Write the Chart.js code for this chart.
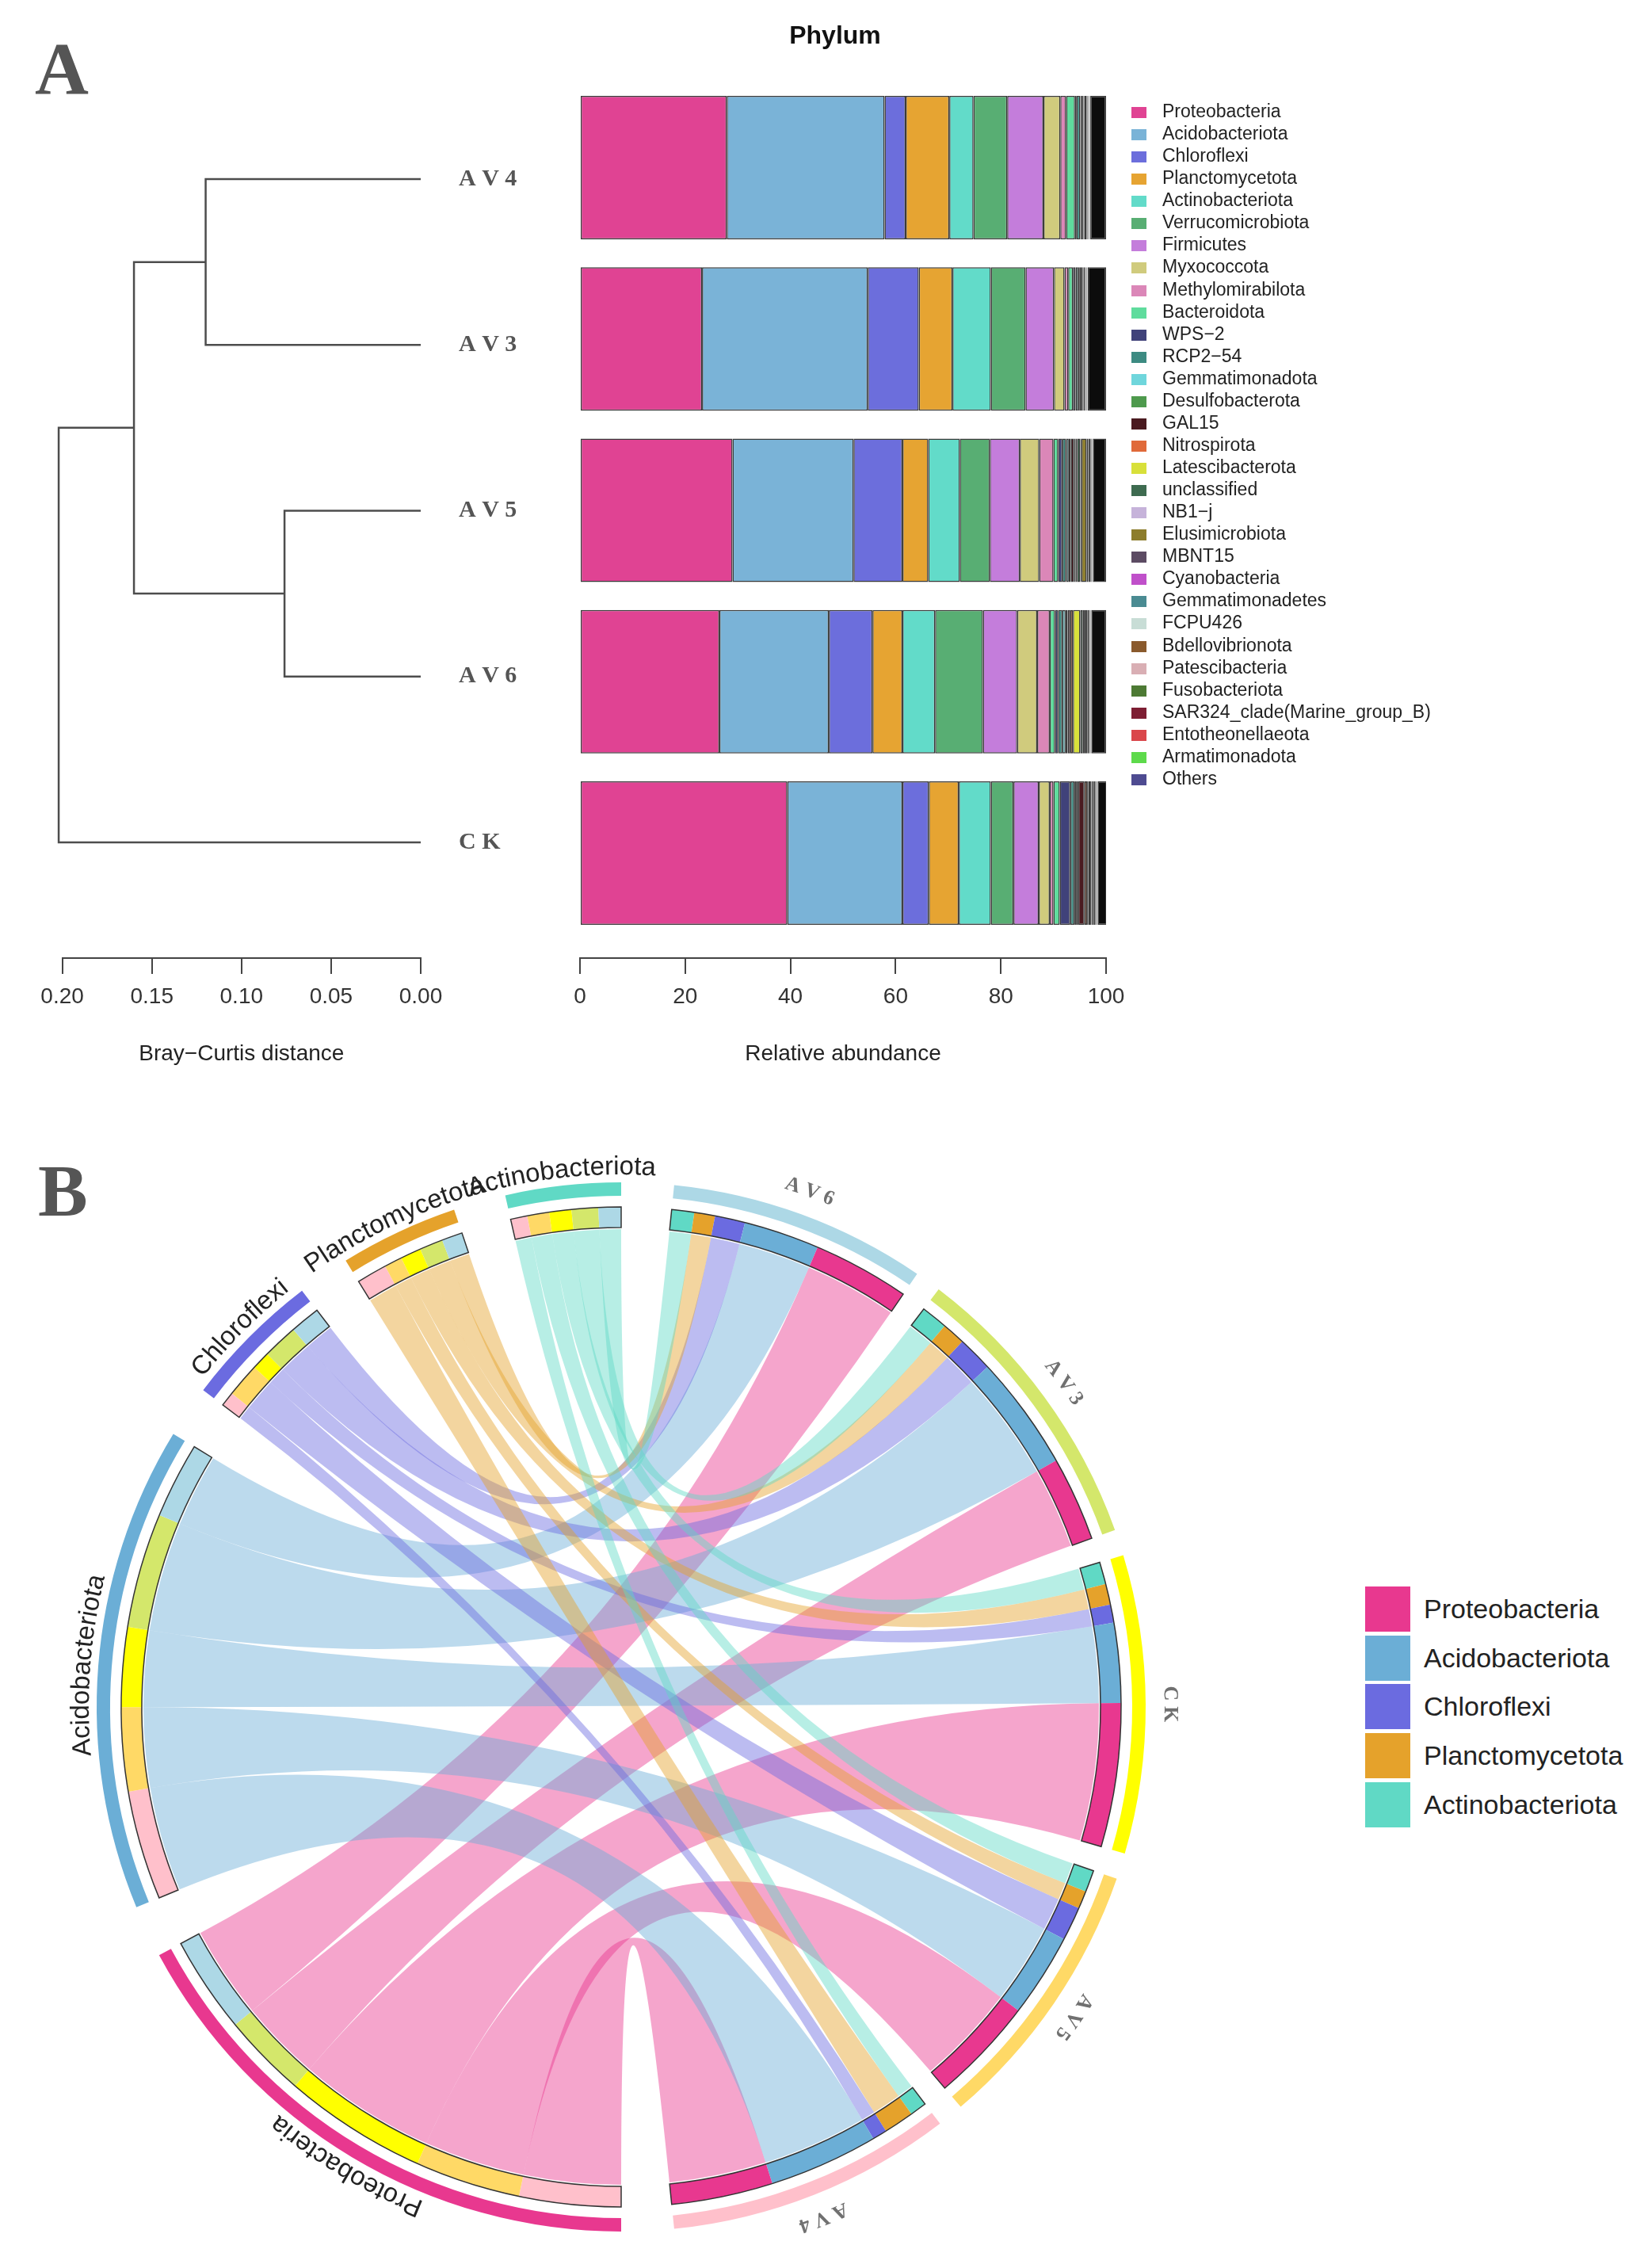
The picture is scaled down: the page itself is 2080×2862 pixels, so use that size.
<!DOCTYPE html>
<html>
<head>
<meta charset="utf-8">
<title>Phylum</title>
<script src="https://cdn.jsdelivr.net/npm/chart.js@4.4.1/dist/chart.umd.min.js"></script>
<style>
    body { margin: 0; width: 2080px; height: 2862px; position: relative; overflow: hidden; background: #fff;
           font-family: "Liberation Sans", Arial, sans-serif; }
    canvas { position: absolute; }
    .panel { position: absolute; z-index: 2; font-family: "Liberation Serif", "Times New Roman", serif;
             font-weight: bold; font-size: 94px; line-height: 1; color: #555; }
    .title { position: absolute; z-index: 2; left: 854px; top: 28px; width: 400px; text-align: center;
             font-weight: bold; font-size: 32px; line-height: 32px; color: #111; }
    .legend-a { position: absolute; left: 1428px; top: 126px; }
    .legend-a .row { height: 28.07px; line-height: 28.07px; font-size: 23px; color: #222; white-space: nowrap; }
    .legend-a .box { display: inline-block; width: 19px; height: 14px; margin-right: 20px; vertical-align: -1px; }
    .legend-b { position: absolute; left: 1723px; top: 2002px; }
    .legend-b .row { height: 61.7px; line-height: 57px; font-size: 34px; color: #222; white-space: nowrap; }
    .legend-b .box { display: inline-block; width: 57px; height: 57px; margin-right: 17px; vertical-align: top; }
</style>
</head>
<body>
<div class="panel" style="left:44px; top:39px;">A</div>
<div class="panel" style="left:48px; top:1455px;">B</div>
<div class="title">Phylum</div>

<canvas id="dendroChart" width="700" height="1420" style="left:0; top:0;"></canvas>
<canvas id="barChart" width="740" height="1420" style="left:700px; top:0;"></canvas>
<canvas id="chordChart" width="1568" height="1482" style="left:0; top:1380px;"></canvas>
<div class="legend-a" id="legendA"></div>
<div class="legend-b" id="legendB"></div>

<script>
// ---- data -------------------------------------------------------------

const samples = ['AV4', 'AV3', 'AV5', 'AV6', 'CK'];
const sampleLabels = ['A V 4', 'A V 3', 'A V 5', 'A V 6', 'C K'];

const phyla = [
    'Proteobacteria', 'Acidobacteriota', 'Chloroflexi', 'Planctomycetota', 'Actinobacteriota',
    'Verrucomicrobiota', 'Firmicutes', 'Myxococcota', 'Methylomirabilota', 'Bacteroidota',
    'WPS\u22122', 'RCP2\u221254', 'Gemmatimonadota', 'Desulfobacterota', 'GAL15',
    'Nitrospirota', 'Latescibacterota', 'unclassified', 'NB1\u2212j', 'Elusimicrobiota',
    'MBNT15', 'Cyanobacteria', 'Gemmatimonadetes', 'FCPU426', 'Bdellovibrionota',
    'Patescibacteria', 'Fusobacteriota', 'SAR324_clade(Marine_group_B)', 'Entotheonellaeota', 'Armatimonadota',
    'Others'
];

const phylumColors = [
    '#E04393', '#7AB3D7', '#6C6EDC', '#E6A432', '#62DBC9',
    '#58AE73', '#C47DDB', '#D0CB7D', '#DB87B8', '#5FDC9D',
    '#40427A', '#3D8B82', '#6FD6DC', '#4E9A4D', '#4A1A20',
    '#E06A3A', '#D8E03A', '#3E6B50', '#C6B3DA', '#8D7D2C',
    '#5C4B63', '#C050CA', '#4A8B92', '#C8DDD6', '#8A5A2D',
    '#D9AFB4', '#4D7A34', '#7D1E33', '#DA474B', '#5DDA4B',
    '#4E4B91'
];

// relative abundance (%) per sample, same order as phyla
const av4 = [27.9, 30.0, 4.0, 8.3, 4.6, 6.4, 6.9, 3.2, 1.1, 1.7, 0.3, 0.7, 0.2, 0.2, 0.2, 0.1, 0.1, 0.4, 0.1, 0.1, 0.1, 0.05, 0.1, 0.05, 0.05, 0.05, 0.02, 0.02, 0.03, 0.03, 3.0];
const av3 = [23.2, 31.5, 9.7, 6.4, 7.3, 6.6, 5.4, 2.0, 0.7, 0.9, 0.5, 0.5, 0.3, 0.2, 0.3, 0.1, 0.1, 0.3, 0.05, 0.05, 0.1, 0.02, 0.1, 0.02, 0.03, 0.03, 0.02, 0.03, 0.03, 0.02, 3.5];
const av5 = [29.0, 23.0, 9.3, 4.9, 6.0, 5.7, 5.7, 3.7, 2.7, 0.9, 0.8, 0.7, 0.5, 0.4, 0.6, 0.3, 0.3, 0.6, 0.2, 1.0, 0.3, 0.1, 0.3, 0.1, 0.1, 0.1, 0.05, 0.05, 0.05, 0.05, 2.5];
const av6 = [26.5, 20.8, 8.3, 5.7, 6.2, 9.1, 6.5, 3.8, 2.4, 1.0, 0.6, 0.8, 0.6, 0.4, 0.5, 0.5, 1.4, 0.5, 0.2, 0.3, 0.3, 0.1, 0.2, 0.1, 0.1, 0.1, 0.05, 0.05, 0.05, 0.05, 2.8];
const ck  = [39.4, 21.9, 5.0, 5.7, 6.1, 4.3, 4.8, 2.1, 0.7, 1.2, 2.0, 0.8, 0.3, 0.4, 1.2, 0.5, 0.2, 0.4, 0.2, 0.2, 0.2, 0.1, 0.2, 0.1, 0.1, 0.1, 0.05, 0.05, 0.05, 0.05, 1.8];

const abundanceTicks = [0, 20, 40, 60, 80, 100];
const distanceTicks = [0.20, 0.15, 0.10, 0.05, 0.00];

// Bray-Curtis clustering, hclust style (negative = leaf in samples order, positive = earlier merge)
const mergePairs = [[-1, -2], [-3, -4], [1, 2], [3, -5]];
const mergeHeights = [0.120, 0.076, 0.160, 0.202];

// chord diagram (top five phyla)
const chordSamples = ['AV6', 'AV3', 'CK', 'AV5', 'AV4'];
const chordSampleLabels = ['A V 6', 'A V 3', 'C K', 'A V 5', 'A V 4'];
const chordSampleColors = ['#ADD8E6', '#D4E76B', '#FFFF00', '#FFD966', '#FFC0CB'];
const chordPhyla = ['Proteobacteria', 'Acidobacteriota', 'Chloroflexi', 'Planctomycetota', 'Actinobacteriota'];
const chordPhylumColors = ['#E8388F', '#6BAED6', '#6B6BE0', '#E5A22B', '#60D9C5'];

// ---- helpers ----------------------------------------------------------

const SANS = '"Liberation Sans", Arial, sans-serif';
const SERIF = '"Liberation Serif", "Times New Roman", serif';
Chart.defaults.font.family = SANS;

const table = { AV4: av4, AV3: av3, AV5: av5, AV6: av6, CK: ck };

function rgba(hex, a) {
    const n = parseInt(hex.slice(1), 16);
    return `rgba(${n >> 16}, ${(n >> 8) & 255}, ${n & 255}, ${a})`;
}

function sum(arr) {
    return arr.reduce((a, b) => a + b, 0);
}

// ---- A: dendrogram ----------------------------------------------------

function dendrogramSegments() {
    const nodes = [];
    const pos = id => id < 0 ? { x: 0, y: -id } : nodes[id - 1];
    return mergePairs.map((pair, k) => {
        const a = pos(pair[0]);
        const b = pos(pair[1]);
        const h = mergeHeights[k];
        nodes.push({ x: h, y: (a.y + b.y) / 2 });
        return [{ x: a.x, y: a.y }, { x: h, y: a.y }, { x: h, y: b.y }, { x: b.x, y: b.y }];
    });
}

new Chart(document.getElementById('dendroChart'), {
    type: 'scatter',
    data: {
        datasets: dendrogramSegments().map(seg => ({
            data: seg,
            showLine: true,
            borderColor: '#4d4d4d',
            borderWidth: 2.5,
            pointRadius: 0,
            tension: 0,
            clip: false
        }))
    },
    options: {
        responsive: false,
        animation: false,
        devicePixelRatio: 1,
        events: [],
        layout: { padding: { left: 78.6, top: 121.4, right: 0, bottom: 0 } },
        plugins: { legend: { display: false }, tooltip: { enabled: false } },
        scales: {
            x: {
                type: 'linear',
                min: 0,
                max: 0.2,
                reverse: true,
                afterBuildTicks: s => { s.ticks = distanceTicks.map(v => ({ value: v })); },
                afterFit: s => { s.height = 211; },
                ticks: { callback: v => v.toFixed(2), font: { size: 28 }, color: '#333', padding: 12 },
                grid: { drawOnChartArea: false, drawTicks: true, tickLength: 20, color: '#444', lineWidth: 2 },
                border: { display: true, color: '#444', width: 2 },
                title: { display: true, text: 'Bray\u2212Curtis distance', font: { size: 28 }, color: '#222',
                         padding: { top: 0, bottom: 73 } }
            },
            y: {
                type: 'linear',
                position: 'right',
                min: 0.5,
                max: 5.698,
                reverse: true,
                afterBuildTicks: s => { s.ticks = samples.map((_, i) => ({ value: i + 1 })); },
                afterFit: s => { s.width = 169; },
                ticks: {
                    callback: v => sampleLabels[v - 1],
                    font: { family: SERIF, size: 30, weight: 'bold' },
                    color: '#555',
                    padding: 40,
                    autoSkip: false
                },
                grid: { display: false },
                border: { display: false }
            }
        }
    }
});

// ---- A: stacked abundance bars ---------------------------------------

new Chart(document.getElementById('barChart'), {
    type: 'bar',
    data: {
        datasets: phyla.map((name, k) => ({
            label: name,
            data: samples.map((s, i) => ({ x: table[s][k], y: i })),
            // the "Others" block reads as black in the bars
            backgroundColor: name === 'Others' ? '#0c0c0c' : phylumColors[k],
            borderColor: '#3a3a3a',
            borderWidth: 1.5,
            borderSkipped: false,
            barPercentage: 0.837,
            categoryPercentage: 1
        }))
    },
    options: {
        indexAxis: 'y',
        responsive: false,
        animation: false,
        devicePixelRatio: 1,
        events: [],
        layout: { padding: { left: 32, top: 103.4, right: 44, bottom: 0 } },
        plugins: { legend: { display: false }, tooltip: { enabled: false } },
        scales: {
            x: {
                type: 'linear',
                stacked: true,
                min: 0,
                max: 100,
                afterBuildTicks: s => { s.ticks = abundanceTicks.map(v => ({ value: v })); },
                afterFit: s => { s.height = 211; },
                ticks: { font: { size: 28 }, color: '#333', padding: 12 },
                grid: { drawOnChartArea: false, drawTicks: true, tickLength: 20, color: '#444', lineWidth: 2 },
                border: { display: true, color: '#444', width: 2 },
                title: { display: true, text: 'Relative abundance', font: { size: 28 }, color: '#222',
                         padding: { top: 0, bottom: 73 } }
            },
            y: {
                type: 'linear',
                stacked: true,
                display: false,
                offset: false,
                min: -0.5,
                max: 4.6126,
                reverse: true,
                afterBuildTicks: s => { s.ticks = samples.map((_, i) => ({ value: i })); }
            }
        }
    }
});

// legend for panel A
const legendA = document.getElementById('legendA');
phyla.forEach((name, k) => {
    const row = document.createElement('div');
    row.className = 'row';
    row.innerHTML = `<span class="box" style="background:${phylumColors[k]}"></span>${name}`;
    legendA.appendChild(row);
});

// ---- B: chord diagram -------------------------------------------------

const sampleGapDeg = 2.9;
const groupGapDeg = 5.8;

function buildChord() {
    const sectors = [];
    chordSamples.forEach((s, i) => {
        const parts = chordPhyla.map((p, j) => ({ value: table[s][phyla.indexOf(p)], color: chordPhylumColors[j], s: i, p: j }));
        sectors.push({ label: chordSampleLabels[i], color: chordSampleColors[i], kind: 'sample', parts: parts.reverse() });
    });
    chordPhyla.forEach((p, j) => {
        const parts = chordSamples.map((s, i) => ({ value: table[s][phyla.indexOf(p)], color: chordSampleColors[i], s: i, p: j }));
        sectors.push({ label: p, color: chordPhylumColors[j], kind: 'phylum', parts: parts.reverse() });
    });

    const gaps = sectors.map((sec, k) => (sec.kind === 'sample' && k < chordSamples.length - 1) ? sampleGapDeg : groupGapDeg);
    const units = sum(sectors.map(sec => sum(sec.parts.map(p => p.value))));
    const unitsPerDeg = units / (360 - sum(gaps));

    const outer = { data: [], colors: [], index: [] };
    const inner = { data: [], colors: [] };
    const ends = {};
    sectors.forEach((sec, k) => {
        outer.index.push(outer.data.length);
        outer.data.push(sum(sec.parts.map(p => p.value)));
        outer.colors.push(sec.color);
        outer.data.push(gaps[k] * unitsPerDeg);
        outer.colors.push('rgba(0,0,0,0)');
        sec.parts.forEach(part => {
            const key = part.s + '-' + part.p;
            ends[key] = ends[key] || {};
            ends[key][sec.kind] = inner.data.length;
            inner.data.push(part.value);
            inner.colors.push(part.color);
        });
        inner.data.push(gaps[k] * unitsPerDeg);
        inner.colors.push('rgba(0,0,0,0)');
    });
    return { sectors, outer, inner, ends };
}

const chord = buildChord();

function arcText(ctx, text, cx, cy, r, mid) {
    // text bent along the circle, reading clockwise, top of glyphs outward
    const total = ctx.measureText(text).width;
    let a = mid - total / (2 * r);
    for (const ch of text) {
        const w = ctx.measureText(ch).width;
        const ang = a + w / (2 * r);
        ctx.save();
        ctx.translate(cx + r * Math.cos(ang), cy + r * Math.sin(ang));
        ctx.rotate(ang + Math.PI / 2);
        ctx.fillText(ch, 0, 0);
        ctx.restore();
        a += w / r;
    }
}

const chordLinks = {
    id: 'chordLinks',
    beforeDatasetsDraw(chart) {
        const ctx = chart.ctx;
        const arcs = chart.getDatasetMeta(2).data;
        const cx = arcs[0].x, cy = arcs[0].y;
        const r = arcs[0].innerRadius - 2;
        const pt = a => [cx + r * Math.cos(a), cy + r * Math.sin(a)];
        ctx.save();
        chordPhyla.forEach((p, j) => {
            chordSamples.forEach((s, i) => {
                const e = chord.ends[i + '-' + j];
                const a = arcs[e.sample], b = arcs[e.phylum];
                ctx.beginPath();
                ctx.arc(cx, cy, r, a.startAngle, a.endAngle);
                ctx.quadraticCurveTo(cx, cy, ...pt(b.startAngle));
                ctx.arc(cx, cy, r, b.startAngle, b.endAngle);
                ctx.quadraticCurveTo(cx, cy, ...pt(a.startAngle));
                ctx.closePath();
                ctx.fillStyle = rgba(chordPhylumColors[j], 0.45);
                ctx.fill();
            });
        });
        ctx.restore();
    },
    afterDatasetsDraw(chart) {
        const ctx = chart.ctx;
        const outerArcs = chart.getDatasetMeta(0).data;
        const innerArcs = chart.getDatasetMeta(2).data;
        const cx = innerArcs[0].x, cy = innerArcs[0].y;
        const rIn = innerArcs[0].innerRadius, rOut = innerArcs[0].outerRadius;
        ctx.save();
        chord.sectors.forEach((sec, k) => {
            const arc = outerArcs[chord.outer.index[k]];
            // outline of the inner track
            ctx.beginPath();
            ctx.arc(cx, cy, rOut, arc.startAngle, arc.endAngle);
            ctx.arc(cx, cy, rIn, arc.endAngle, arc.startAngle, true);
            ctx.closePath();
            ctx.strokeStyle = '#333';
            ctx.lineWidth = 1.5;
            ctx.stroke();

            const mid = (arc.startAngle + arc.endAngle) / 2;
            ctx.textAlign = 'center';
            ctx.textBaseline = 'alphabetic';
            if (sec.kind === 'phylum') {
                ctx.font = '33px ' + SANS;
                ctx.fillStyle = '#222';
                arcText(ctx, sec.label, cx, cy, 672, mid);
            } else {
                ctx.font = 'bold 26px ' + SERIF;
                ctx.fillStyle = '#707070';
                arcText(ctx, sec.label, cx, cy, 686, mid);
            }
        });
        ctx.restore();
    }
};

new Chart(document.getElementById('chordChart'), {
    type: 'doughnut',
    data: {
        datasets: [
            { data: chord.outer.data, backgroundColor: chord.outer.colors, borderWidth: 0, weight: 17 },
            { data: chord.outer.data, backgroundColor: 'rgba(0,0,0,0)', borderWidth: 0, weight: 14 },
            { data: chord.inner.data, backgroundColor: chord.inner.colors, borderWidth: 0, weight: 26 }
        ]
    },
    options: {
        responsive: false,
        animation: false,
        devicePixelRatio: 1,
        events: [],
        rotation: groupGapDeg,
        radius: 662,
        cutout: 605,
        layout: { padding: { left: 122, right: 122, top: 112, bottom: 46 } },
        plugins: { legend: { display: false }, tooltip: { enabled: false } }
    },
    plugins: [chordLinks]
});

// legend for panel B
const legendB = document.getElementById('legendB');
chordPhyla.forEach((name, j) => {
    const row = document.createElement('div');
    row.className = 'row';
    row.innerHTML = `<span class="box" style="background:${chordPhylumColors[j]}"></span>${name}`;
    legendB.appendChild(row);
});
</script>
</body>
</html>
